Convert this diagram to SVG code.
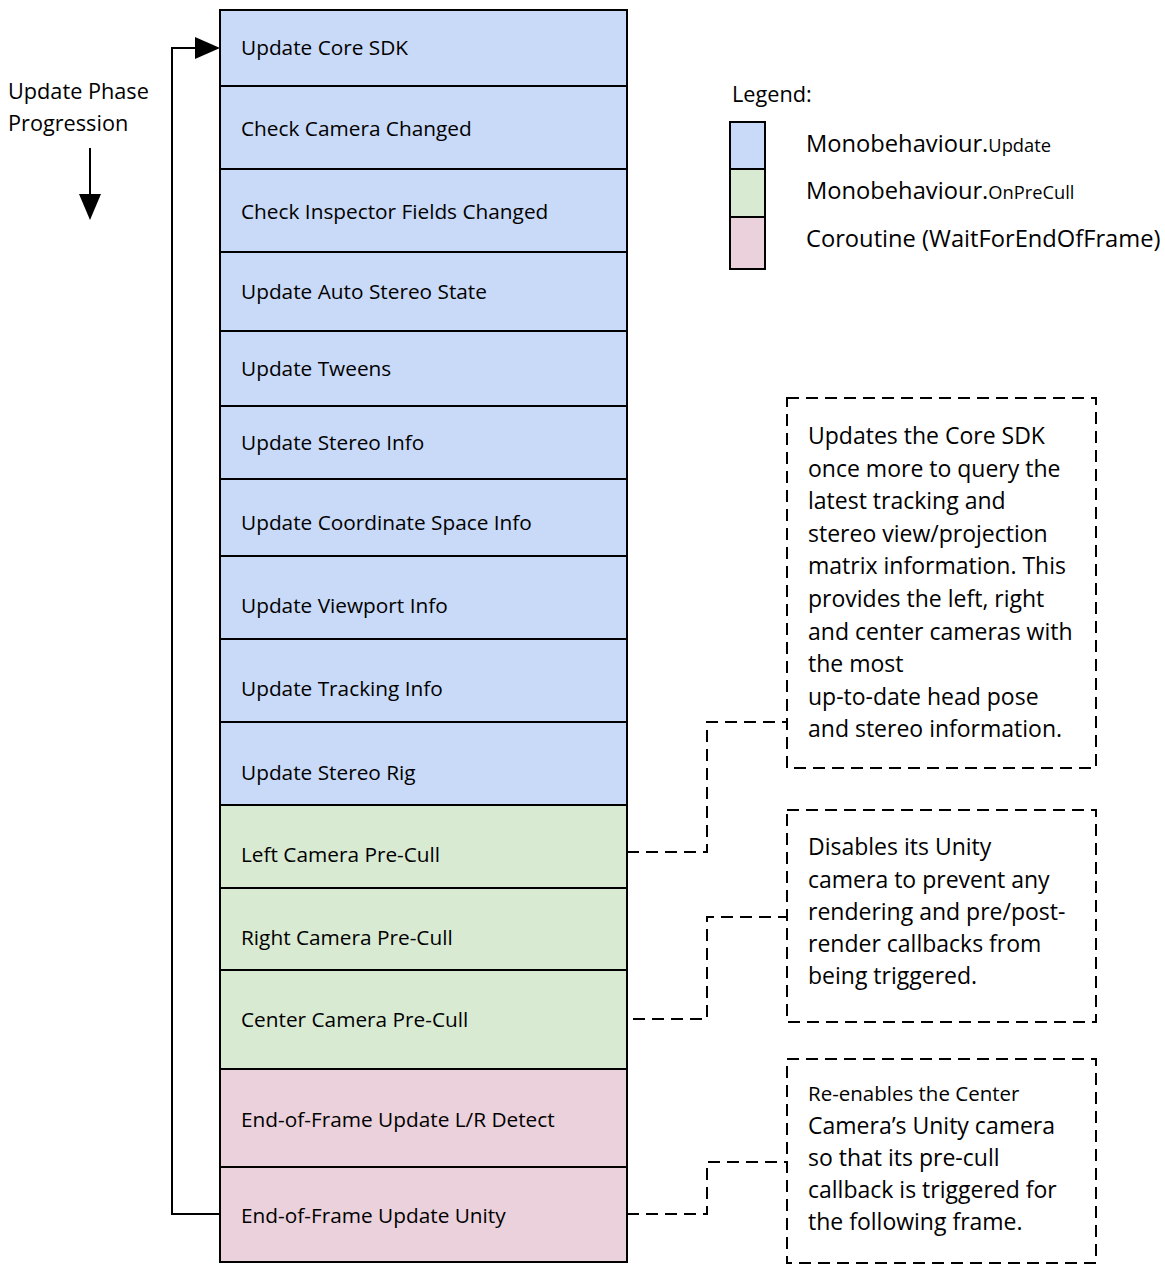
<svg xmlns="http://www.w3.org/2000/svg" width="1165" height="1264" viewBox="0 0 1165 1264">
<defs>
<style>
text{font-family:"Open Sans","Noto Sans","Liberation Sans",sans-serif;fill:#000}
.lbl{font-size:20.8px}
.co{font-size:23px}
.leg{font-size:21.7px}
.legl{font-size:23.7px}
.sm{font-size:18.3px}
.sm2{font-size:20.5px}
.b{fill:#c9daf8;stroke:#000;stroke-width:2}
.g{fill:#d9ead3;stroke:#000;stroke-width:2}
.p{fill:#ead1dc;stroke:#000;stroke-width:2}
.dash{fill:none;stroke:#000;stroke-width:2;stroke-dasharray:12 7}
.solid{fill:none;stroke:#000;stroke-width:2}
</style>
</defs>
<rect width="1165" height="1264" fill="#fff"/>

<g id="progression">
<text class="leg" x="8" y="99">Update Phase</text>
<text class="leg" x="8" y="131">Progression</text>
<line class="solid" x1="90" y1="148" x2="90" y2="196"/>
<path d="M79,194 L101,194 L90,220 Z" fill="#000"/>
</g>

<g id="legend">
<text class="leg" x="732" y="102">Legend:</text>
<rect class="b" x="730" y="122" width="35" height="47"/>
<rect class="g" x="730" y="169" width="35" height="48"/>
<rect class="p" x="730" y="217" width="35" height="52"/>
<text class="legl" x="806" y="152">Monobehaviour.<tspan class="sm">Update</tspan></text>
<text class="legl" x="806" y="199">Monobehaviour.<tspan class="sm">OnPreCull</tspan></text>
<text class="legl" x="806" y="247">Coroutine (WaitForEndOfFrame)</text>
</g>

<g id="n1"><rect class="b" x="220" y="10" width="407" height="76"/><text class="lbl" x="241" y="55">Update Core SDK</text></g>
<g id="n2"><rect class="b" x="220" y="86" width="407" height="83"/><text class="lbl" x="241" y="136">Check Camera Changed</text></g>
<g id="n3"><rect class="b" x="220" y="169" width="407" height="83"/><text class="lbl" x="241" y="219">Check Inspector Fields Changed</text></g>
<g id="n4"><rect class="b" x="220" y="252" width="407" height="79"/><text class="lbl" x="241" y="299">Update Auto Stereo State</text></g>
<g id="n5"><rect class="b" x="220" y="331" width="407" height="75"/><text class="lbl" x="241" y="376">Update Tweens</text></g>
<g id="n6"><rect class="b" x="220" y="406" width="407" height="73"/><text class="lbl" x="241" y="450">Update Stereo Info</text></g>
<g id="n7"><rect class="b" x="220" y="479" width="407" height="77"/><text class="lbl" x="241" y="530">Update Coordinate Space Info</text></g>
<g id="n8"><rect class="b" x="220" y="556" width="407" height="83"/><text class="lbl" x="241" y="613">Update Viewport Info</text></g>
<g id="n9"><rect class="b" x="220" y="639" width="407" height="83"/><text class="lbl" x="241" y="696">Update Tracking Info</text></g>
<g id="n10"><rect class="b" x="220" y="722" width="407" height="83"/><text class="lbl" x="241" y="780">Update Stereo Rig</text></g>
<g id="n11"><rect class="g" x="220" y="805" width="407" height="83"/><text class="lbl" x="241" y="862">Left Camera Pre-Cull</text></g>
<g id="n12"><rect class="g" x="220" y="888" width="407" height="82"/><text class="lbl" x="241" y="945">Right Camera Pre-Cull</text></g>
<g id="n13"><rect class="g" x="220" y="970" width="407" height="99"/><text class="lbl" x="241" y="1027">Center Camera Pre-Cull</text></g>
<g id="n14"><rect class="p" x="220" y="1069" width="407" height="98"/><text class="lbl" x="241" y="1127">End-of-Frame Update L/R Detect</text></g>
<g id="n15"><rect class="p" x="220" y="1167" width="407" height="95"/><text class="lbl" x="241" y="1223">End-of-Frame Update Unity</text></g>

<g id="note1">
<rect class="dash" x="787" y="398" width="309" height="370"/>
<text class="co" x="808" y="444">Updates the Core SDK</text>
<text class="co" x="808" y="477">once more to query the</text>
<text class="co" x="808" y="509">latest tracking and</text>
<text class="co" x="808" y="542">stereo view/projection</text>
<text class="co" x="808" y="574">matrix information. This</text>
<text class="co" x="808" y="607">provides the left, right</text>
<text class="co" x="808" y="640">and center cameras with</text>
<text class="co" x="808" y="672">the most</text>
<text class="co" x="808" y="705">up-to-date head pose</text>
<text class="co" x="808" y="737">and stereo information.</text>
</g>

<g id="note2">
<rect class="dash" x="787" y="810" width="309" height="212"/>
<text class="co" x="808" y="855">Disables its Unity</text>
<text class="co" x="808" y="888">camera to prevent any</text>
<text class="co" x="808" y="920">rendering and pre/post-</text>
<text class="co" x="808" y="952">render callbacks from</text>
<text class="co" x="808" y="984">being triggered.</text>
</g>

<g id="note3">
<rect class="dash" x="787" y="1059" width="309" height="204"/>
<text class="sm2" x="808" y="1101">Re-enables the Center</text>
<text class="co" x="808" y="1134">Camera’s Unity camera</text>
<text class="co" x="808" y="1166">so that its pre-cull</text>
<text class="co" x="808" y="1198">callback is triggered for</text>
<text class="co" x="808" y="1230">the following frame.</text>
</g>

<g id="connectors">
<polyline class="solid" points="220,1214 172,1214 172,48 197,48"/>
<path d="M195,37 L220,48 L195,59 Z" fill="#000"/>
<polyline class="dash" points="627,852 707,852 707,722 787,722"/>
<polyline class="dash" points="633,1019 707,1019 707,917 787,917"/>
<polyline class="dash" points="627,1214 707,1214 707,1162 787,1162"/>
</g>
</svg>
